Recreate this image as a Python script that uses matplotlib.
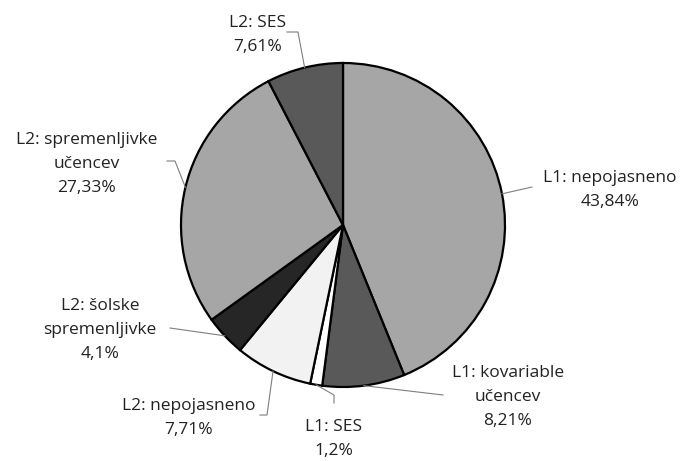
import numpy as np
import matplotlib.pyplot as plt

plt.rcParams['font.family'] = ['Open Sans', 'DejaVu Sans']

# Slices, clockwise from 12 o'clock
labels = ['L1: nepojasneno', 'L1: kovariable\nučencev', 'L1: SES',
          'L2: nepojasneno', 'L2: šolske\nspremenljivke',
          'L2: spremenljivke\nučencev', 'L2: SES']
values = [43.84, 8.21, 1.2, 7.71, 4.1, 27.33, 7.61]
pct_text = ['43,84%', '8,21%', '1,2%', '7,71%', '4,1%', '27,33%', '7,61%']
colors = ['#a6a6a6', '#595959', '#ffffff', '#f2f2f2', '#262626', '#a6a6a6', '#595959']

W, H = 685, 461
cx, cy, R = 343, 225, 162  # pixel coords, y down

# label block centres and leader paths (pixel coords, y down)
label_pos = [(610, 190), (508, 397), (334, 439), (189, 418), (100, 330), (87, 164), (258, 35)]
leader_from = [[(532, 187)],
               [(443, 395)],
               [(334, 403), (334, 395)],
               [(260, 415), (267, 415)],
               [(170, 328)],
               [(167, 161), (175, 161)],
               [(287, 32), (298, 32)]]

fig = plt.figure(figsize=(W / 100, H / 100), dpi=100)
ax = fig.add_axes([0, 0, 1, 1])

ax.pie(values, colors=colors, startangle=90, counterclock=False,
       center=(cx, H - cy), radius=R,
       wedgeprops=dict(edgecolor='black', linewidth=1.6))
ax.set_xlim(0, W)
ax.set_ylim(0, H)
ax.set_aspect('equal')
ax.axis('off')

total = sum(values)
cum = np.cumsum([0] + values[:-1])
for i, v in enumerate(values):
    mid = (cum[i] + v / 2) / total * 2 * np.pi
    px = cx + R * np.sin(mid)
    py = cy - R * np.cos(mid)
    pts = leader_from[i] + [(px, py)]
    ax.plot([p[0] for p in pts], [H - p[1] for p in pts], color='#7f7f7f', lw=0.8)
    lx, ly = label_pos[i]
    ax.text(lx, H - ly, labels[i] + '\n' + pct_text[i], ha='center', va='center',
            fontsize=12.5, linespacing=1.7, color='#222222')

fig.savefig('out.png', dpi=100)
